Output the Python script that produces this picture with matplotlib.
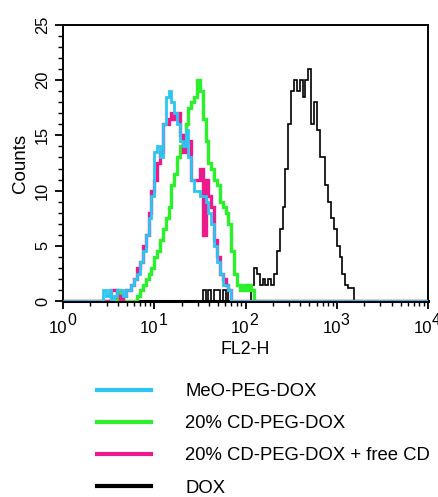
import numpy as np
import matplotlib
matplotlib.use("Agg")
import matplotlib.pyplot as plt
from matplotlib.lines import Line2D

plt.rcParams['font.family'] = ['Liberation Sans', 'DejaVu Sans']

# ---- data: histogram counts on log channels (32 bins per decade, 10^0..10^4) ----
bins_per_decade = 32
n_decades = 4

labels = ["MeO-PEG-DOX", "20% CD-PEG-DOX", "20% CD-PEG-DOX + free CD", "DOX"]
colors = ["#2cc6f2", "#2cf02c", "#ec1a8c", "#000000"]

meo_start = 13
meo_counts = [0, 1, 0.5, 1, 0, 0.5, 1, 1, 0.5, 1, 1, 1.5, 2, 2.5, 3.5, 4.5, 6, 7.5,
              9.5, 13.5, 14, 13, 16, 18.5, 19, 18, 17, 16, 14.5, 14, 15.5, 13, 11,
              10, 10, 9.5, 9.5, 9, 8, 7, 5, 3.5, 2.5, 1.5, 1.5, 1, 0]

cd_start = 18
cd_counts = [0, 1, 0.5, 0, 0, 0, 0, 0, 0.5, 1, 1.5, 2, 2.5, 3, 4, 4.5, 5.5, 6.5, 7.5,
             8.5, 10.5, 11.5, 13, 14, 15, 16, 17.5, 18, 18.5, 20, 19, 16.5, 14.5,
             12.5, 12, 11, 10.5, 9, 8.5, 8, 7, 4.5, 2.5, 1.5, 1, 1.5, 1, 1.5, 1, 0]

cdfree_start = 13
cdfree_counts = [0, 0, 0, 0, 1, 1, 0.5, 0, 0.5, 1, 1, 1.5, 2, 3, 3.5, 5, 6, 8, 10,
                 11, 12.5, 13.5, 16, 16, 16.5, 17, 16.5, 17, 15, 13.5, 14.5, 14.5,
                 11, 11, 11, 12, 6, 11, 9.5, 8.5, 5.5, 4, 2.5, 2, 1.5, 1, 0]

dox_start = 48
dox_counts = [0, 1, 0, 1, 0, 1, 1, 0, 1, 0, 1, 0, 0, 0, 0, 0, 0, 0, 1.5, 3, 2.5,
              1.5, 2, 1.5, 2, 1.5, 2.5, 4.5, 6.5, 8.5, 12, 16, 19, 20, 19, 20,
              18.5, 20, 21, 16, 18, 15.5, 13, 13, 10.5, 9, 7.5, 6.5, 5, 4, 2.5,
              1.5, 1.2, 1.2, 0]

series = [(meo_start, meo_counts), (cd_start, cd_counts),
          (cdfree_start, cdfree_counts), (dox_start, dox_counts)]
widths = [2.0, 2.4, 2.4, 1.2]

y_major = [0, 5, 10, 15, 20, 25]
x_major = [1, 10, 100, 1000, 10000]
x_exps = ["0", "1", "2", "3", "4"]

# ---- figure ----
fig = plt.figure(figsize=(4.39, 4.97), dpi=100)
ax = fig.add_axes([0.1435, 0.394, 0.8315, 0.556])

nb = bins_per_decade * n_decades
edges = 10 ** (np.arange(nb + 1) / bins_per_decade)

order = [3, 1, 2, 0]
for i in order:
    start, cnt = series[i]
    full = np.zeros(nb)
    full[start:start + len(cnt)] = cnt
    ax.stairs(full, edges, color=colors[i], lw=widths[i], baseline=None,
              zorder=2 + order.index(i))

ax.set_xscale('log')
ax.set_xlim(1, 10000)
ax.set_ylim(0, 25)
ax.set_xticks(x_major)
ax.set_xticklabels([])
ax.set_yticks(y_major)
ax.set_yticks(np.arange(0, 26, 1), minor=True)
ax.set_yticklabels([str(v) for v in y_major], fontsize=11.8, rotation=90, va='center')
ax.tick_params(axis='both', which='major', direction='out', length=5.8, width=1.3, pad=3.5)
ax.tick_params(axis='both', which='minor', direction='out', length=3.6, width=1.0)
for s in ax.spines.values():
    s.set_linewidth(1.4)
ax.spines['bottom'].set_linewidth(2.2)

# x tick labels: "10" with a large superscript exponent
for xv, e in zip(x_major, x_exps):
    ax.annotate("10", xy=(xv, 0), xycoords=('data', 'axes fraction'),
                xytext=(4, -32), textcoords='offset pixels',
                ha='right', va='baseline', fontsize=12)
    ax.annotate(e, xy=(xv, 0), xycoords=('data', 'axes fraction'),
                xytext=(4, -24), textcoords='offset pixels',
                ha='left', va='baseline', fontsize=11.5)

fig.text(245 / 439, 1 - 349 / 497, "FL2-H", fontsize=12.8, ha='center', va='center')
fig.text(20 / 439, 1 - 163 / 497, "Counts", fontsize=13.5, rotation=90,
         ha='center', va='center')

handles = [Line2D([0], [0], color=c, lw=3) for c in colors]
fig.legend(handles, labels, loc='upper left', bbox_to_anchor=(0.222, 0.229),
           frameon=False, fontsize=13.3, handlelength=2.9, handletextpad=1.85,
           labelspacing=0.82, borderpad=0, borderaxespad=0)

fig.savefig("out.png", dpi=100)
